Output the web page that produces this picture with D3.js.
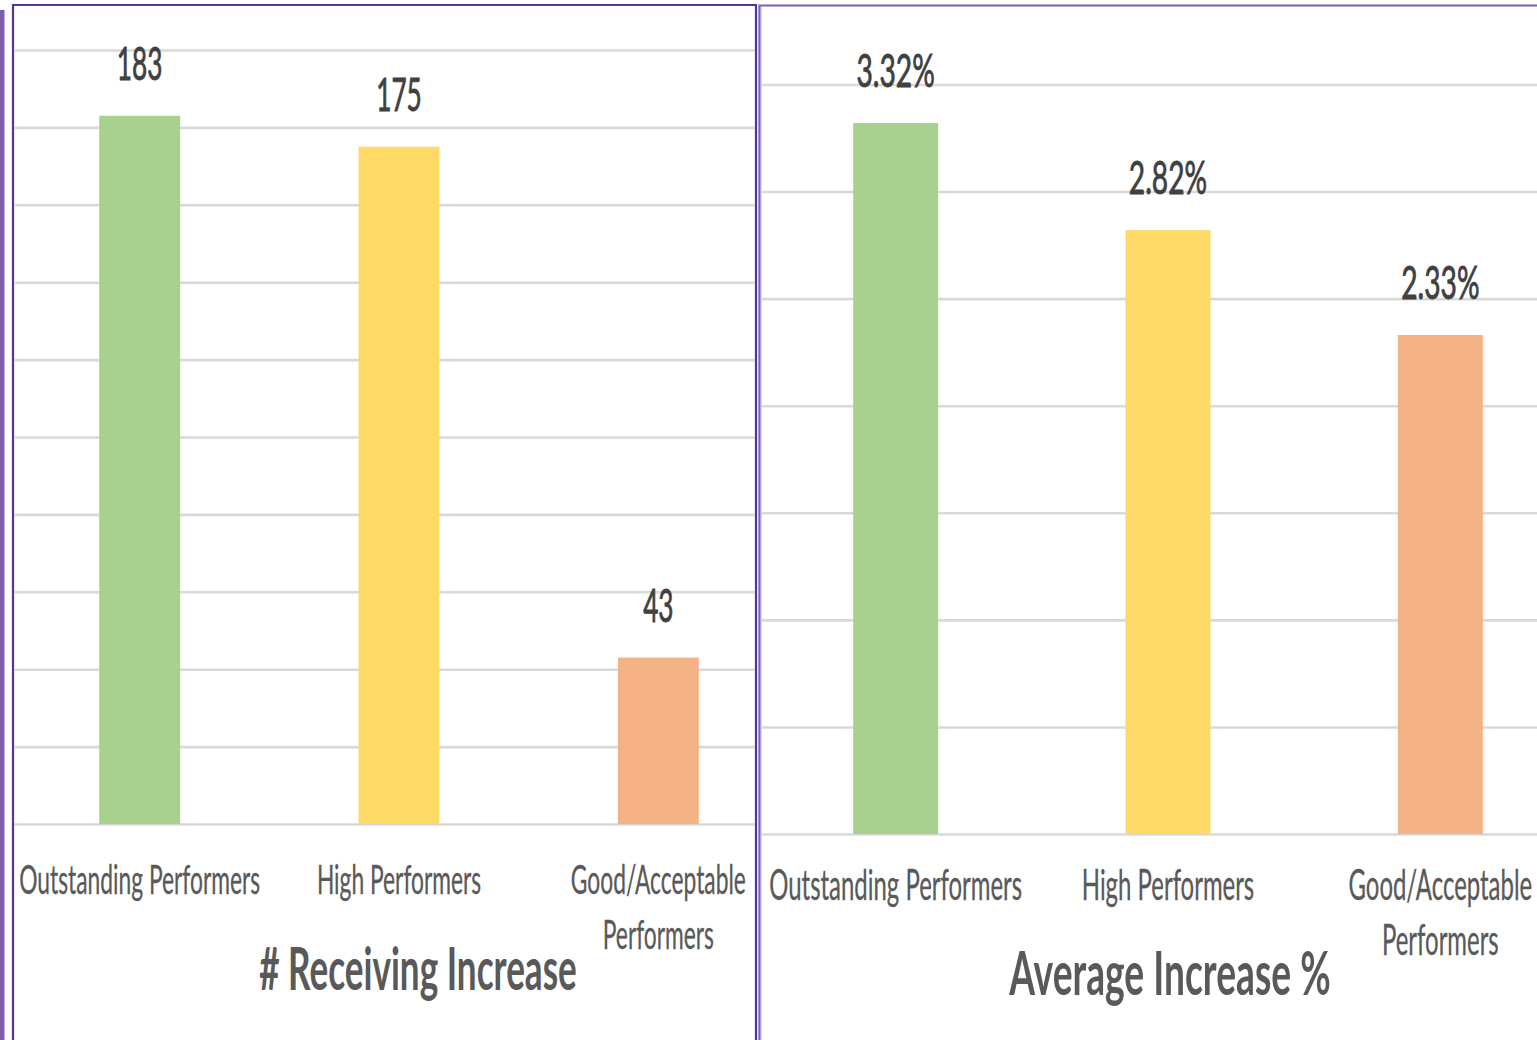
<!DOCTYPE html>
<html>
<head>
<meta charset="utf-8">
<script src="https://cdn.jsdelivr.net/npm/d3@7"></script>
<style>
  html, body { margin: 0; padding: 0; background: #ffffff; }
  svg { display: block; }
  text { font-family: Lato, "Open Sans", sans-serif; }
</style>
</head>
<body>
<svg id="chart" width="1537" height="1040"></svg>
<script>
// Performance groups shown in both panels
const categories = ["Outstanding Performers", "High Performers", "Good/Acceptable Performers"];
const barColors = ["#a9d18e", "#ffd966", "#f4b183"];

// Left panel: number of employees receiving an increase
const receivingCounts = [183, 175, 43];
const receivingTicks = [0, 20, 40, 60, 80, 100, 120, 140, 160, 180, 200];
const receivingTitle = "# Receiving Increase";

// Right panel: average increase, in percent
const averageIncrease = [3.32, 2.82, 2.33];
const averageTicks = [0, 0.5, 1, 1.5, 2, 2.5, 3, 3.5];
const averageTitle = "Average Increase %";

const svg = d3.select("#chart");
const SX = 0.57; // horizontal squeeze that gives the tall, narrow lettering

// Panel frames
svg.append("rect").attr("x", 0).attr("y", 10).attr("width", 4.5).attr("height", 1030).attr("fill", "#7e5fae");
svg.append("path").attr("d", "M13,1040 V5 H756 V1040").attr("fill", "none").attr("stroke", "#55349a").attr("stroke-width", 2.2);
svg.append("path").attr("d", "M759.5,1040 V5.5 H1537").attr("fill", "none").attr("stroke", "#7a5cb8").attr("stroke-width", 2.2);
svg.append("line").attr("x1", 761).attr("x2", 761).attr("y1", 7).attr("y2", 1040).attr("stroke", "#b8a6d8").attr("stroke-width", 1);

function squeezedText(g, x, y, str, size, opts) {
  const t = g.append("g").attr("transform", `translate(${x},${y}) scale(${opts.sx || SX},1)`)
    .append("text")
    .attr("text-anchor", "middle")
    .attr("font-size", size)
    .attr("font-weight", opts.weight || 400)
    .attr("fill", opts.fill)
    .text(str);
  if (opts.stroke) t.attr("stroke", opts.fill).attr("stroke-width", opts.stroke);
  return t;
}

function drawPanel(cfg) {
  const clipId = "clip-" + cfg.id;
  svg.append("clipPath").attr("id", clipId)
    .append("rect").attr("x", cfg.clip[0]).attr("y", 0)
    .attr("width", cfg.clip[1] - cfg.clip[0]).attr("height", 1040);

  const g = svg.append("g").attr("clip-path", `url(#${clipId})`);

  const x = d3.scaleBand().domain(categories).range(cfg.xRange)
    .paddingInner(0.688).paddingOuter(0.344);
  const y = d3.scaleLinear().domain(cfg.domain).range(cfg.yRange);

  // Horizontal gridlines from the value axis
  const axis = d3.axisLeft(y).tickValues(cfg.ticks).tickSize(-(cfg.xRange[1] - cfg.xRange[0])).tickFormat("");
  const ag = g.append("g").attr("transform", `translate(${cfg.xRange[0]},0)`).call(axis);
  ag.select(".domain").remove();
  ag.selectAll(".tick line").attr("stroke", "#d9d9d9").attr("stroke-width", 2.6);

  // Bars
  g.selectAll("rect.bar").data(cfg.values).join("rect")
    .attr("class", "bar")
    .attr("x", (d, i) => x(categories[i]))
    .attr("width", x.bandwidth())
    .attr("y", d => y(d))
    .attr("height", d => y(0) - y(d))
    .attr("fill", (d, i) => barColors[i]);

  // Value labels
  cfg.values.forEach((v, i) => {
    squeezedText(g, x(categories[i]) + x.bandwidth() / 2, y(v) - cfg.labelGap,
      cfg.format(v), cfg.valueSize, { fill: "#404040", stroke: 0.9, sx: cfg.valueSx });
  });

  // Category labels, wrapped word by word to the band step
  categories.forEach((c, i) => {
    const cx = x(categories[i]) + x.bandwidth() / 2;
    const words = c.split(" ");
    const lines = [];
    let cur = "";
    const probe = svg.append("text").attr("font-size", cfg.catSize).attr("font-family", "Lato");
    words.forEach(w => {
      const test = cur ? cur + " " + w : w;
      probe.text(test);
      const wpx = probe.node().getComputedTextLength() * SX;
      if (wpx > x.step() * 0.96 && cur) { lines.push(cur); cur = w; } else { cur = test; }
    });
    lines.push(cur);
    probe.remove();
    lines.forEach((ln, k) => {
      squeezedText(g, cx, cfg.catY + k * cfg.catLine, ln, cfg.catSize, { fill: "#595959", stroke: 0.3 });
    });
  });

  // Panel title
  squeezedText(g, cfg.titleX, cfg.titleY, cfg.title, cfg.titleSize,
    { fill: "#595959", weight: 700, sx: cfg.titleSx });
}

drawPanel({
  id: "receiving",
  clip: [14, 755],
  xRange: [10, 788],
  yRange: [824, 50],
  domain: [0, 200],
  ticks: receivingTicks,
  values: receivingCounts,
  format: d => String(d),
  labelGap: 36,
  valueSize: 46,
  valueSx: 0.57,
  catSize: 40,
  catY: 894,
  catLine: 55,
  title: receivingTitle,
  titleX: 418,
  titleY: 990,
  titleSize: 60,
  titleSx: 0.585
});

drawPanel({
  id: "average",
  clip: [761, 1537],
  xRange: [759.5, 1576.5],
  yRange: [834, 84.5],
  domain: [0, 3.5],
  ticks: averageTicks,
  values: averageIncrease,
  format: d => d.toFixed(2) + "%",
  labelGap: 36,
  valueSize: 47,
  valueSx: 0.6,
  catSize: 42,
  catY: 900,
  catLine: 55,
  title: averageTitle,
  titleX: 1170,
  titleY: 995,
  titleSize: 62,
  titleSx: 0.6
});
</script>
</body>
</html>
